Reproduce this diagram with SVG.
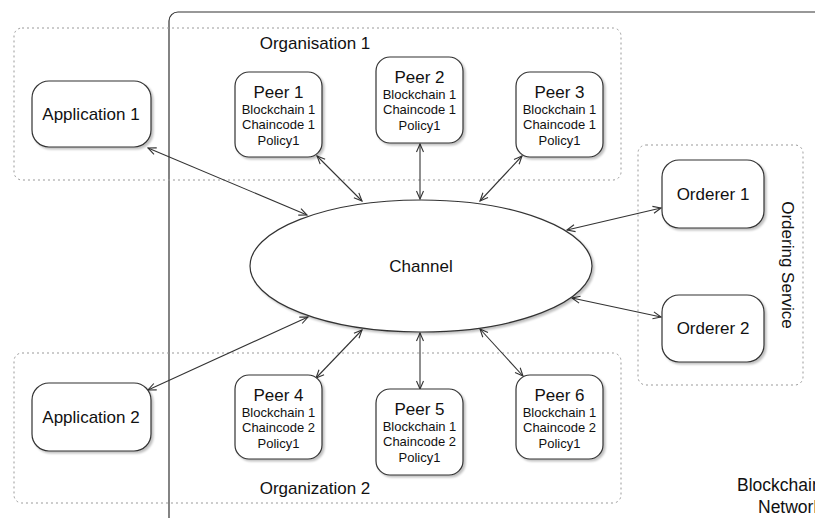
<svg xmlns="http://www.w3.org/2000/svg" width="815" height="518" viewBox="0 0 815 518">
<defs>
<style>
text{font-family:"Liberation Sans",Arial,Helvetica,sans-serif;fill:#111;text-anchor:middle}
.t{font-size:17px}
.s{font-size:13px}
.box{fill:#fff;stroke:#333;stroke-width:1.2}
.grp{fill:none;stroke:#999;stroke-width:1;stroke-dasharray:2 3}
.c{stroke:#333;stroke-width:1.1;fill:none;marker-start:url(#ar);marker-end:url(#ar)}
</style>
<marker id="ar" viewBox="0 0 10 10" refX="9" refY="5" markerWidth="10" markerHeight="10" markerUnits="userSpaceOnUse" orient="auto-start-reverse">
<path d="M1,1.5 L9,5 L1,8.5" fill="none" stroke="#333" stroke-width="1.1"/>
</marker>
<filter id="sh" x="-10%" y="-10%" width="130%" height="130%">
<feGaussianBlur in="SourceAlpha" stdDeviation="1.2"/>
<feOffset dx="1.5" dy="2" result="b"/>
<feComponentTransfer><feFuncA type="linear" slope="0.25"/></feComponentTransfer>
<feMerge><feMergeNode/><feMergeNode in="SourceGraphic"/></feMerge>
</filter>
</defs>
<rect width="815" height="518" fill="#fff"/>

<g id="blockchain-network">
<rect x="169" y="12" width="720" height="560" rx="9" fill="none" stroke="#333" stroke-width="1.2"/>
<text class="t" x="737" y="491" style="text-anchor:start;font-size:17.5px">Blockchain</text>
<text class="t" x="758" y="513" style="text-anchor:start;font-size:17.5px">Network</text>
</g>

<g id="organisation-1">
<rect class="grp" x="14" y="28" width="607" height="152" rx="8"/>
<text class="t" x="315" y="49">Organisation 1</text>
</g>
<g id="organization-2">
<rect class="grp" x="14" y="353" width="607" height="150" rx="8"/>
<text class="t" x="315" y="494">Organization 2</text>
</g>
<g id="ordering-service">
<rect class="grp" x="638" y="145" width="165" height="240" rx="8"/>
<text class="t" transform="translate(782,265) rotate(90)">Ordering Service</text>
</g>

<g id="connectors">
<line class="c" x1="148" y1="148" x2="307" y2="215"/>
<line class="c" x1="317" y1="156" x2="362" y2="201"/>
<line class="c" x1="420" y1="144" x2="420" y2="199"/>
<line class="c" x1="522" y1="156" x2="480" y2="201"/>
<line class="c" x1="661" y1="208" x2="567" y2="230"/>
<line class="c" x1="661" y1="317" x2="572" y2="298"/>
<line class="c" x1="148" y1="390" x2="308" y2="317"/>
<line class="c" x1="316" y1="378" x2="362" y2="330"/>
<line class="c" x1="420" y1="333" x2="420" y2="389"/>
<line class="c" x1="523" y1="376" x2="480" y2="329"/>
</g>

<g id="channel">
<ellipse class="box" filter="url(#sh)" cx="421" cy="266" rx="171" ry="66"/>
<text class="t" x="421" y="272">Channel</text>
</g>

<g id="application-1">
<rect class="box" filter="url(#sh)" x="32" y="81" width="119" height="66" rx="17"/>
<text class="t" x="91" y="120">Application 1</text>
</g>
<g id="application-2">
<rect class="box" filter="url(#sh)" x="32" y="383" width="119" height="68" rx="17"/>
<text class="t" x="91" y="423">Application 2</text>
</g>

<g id="peer-1">
<rect class="box" filter="url(#sh)" x="235" y="72" width="87" height="85" rx="14"/>
<text class="t" x="278.5" y="97.5">Peer 1</text>
<text class="s" x="278.5" y="113.5">Blockchain 1</text>
<text class="s" x="278.5" y="129">Chaincode 1</text>
<text class="s" x="278.5" y="144.5">Policy1</text>
</g>
<g id="peer-2">
<rect class="box" filter="url(#sh)" x="376" y="57" width="87" height="86" rx="14"/>
<text class="t" x="419.5" y="82.5">Peer 2</text>
<text class="s" x="419.5" y="98.5">Blockchain 1</text>
<text class="s" x="419.5" y="114">Chaincode 1</text>
<text class="s" x="419.5" y="129.5">Policy1</text>
</g>
<g id="peer-3">
<rect class="box" filter="url(#sh)" x="516" y="72" width="87" height="85" rx="14"/>
<text class="t" x="559.5" y="97.5">Peer 3</text>
<text class="s" x="559.5" y="113.5">Blockchain 1</text>
<text class="s" x="559.5" y="129">Chaincode 1</text>
<text class="s" x="559.5" y="144.5">Policy1</text>
</g>
<g id="peer-4">
<rect class="box" filter="url(#sh)" x="235" y="375" width="87" height="84" rx="14"/>
<text class="t" x="278.5" y="400.5">Peer 4</text>
<text class="s" x="278.5" y="416.5">Blockchain 1</text>
<text class="s" x="278.5" y="432">Chaincode 2</text>
<text class="s" x="278.5" y="447.5">Policy1</text>
</g>
<g id="peer-5">
<rect class="box" filter="url(#sh)" x="376" y="389" width="87" height="86" rx="14"/>
<text class="t" x="419.5" y="414.5">Peer 5</text>
<text class="s" x="419.5" y="430.5">Blockchain 1</text>
<text class="s" x="419.5" y="446">Chaincode 2</text>
<text class="s" x="419.5" y="461.5">Policy1</text>
</g>
<g id="peer-6">
<rect class="box" filter="url(#sh)" x="516" y="375" width="87" height="84" rx="14"/>
<text class="t" x="559.5" y="400.5">Peer 6</text>
<text class="s" x="559.5" y="416.5">Blockchain 1</text>
<text class="s" x="559.5" y="432">Chaincode 2</text>
<text class="s" x="559.5" y="447.5">Policy1</text>
</g>

<g id="orderer-1">
<rect class="box" filter="url(#sh)" x="662" y="160" width="102" height="68" rx="17"/>
<text class="t" x="713" y="200">Orderer 1</text>
</g>
<g id="orderer-2">
<rect class="box" filter="url(#sh)" x="662" y="295" width="102" height="67" rx="17"/>
<text class="t" x="713" y="334">Orderer 2</text>
</g>
</svg>
